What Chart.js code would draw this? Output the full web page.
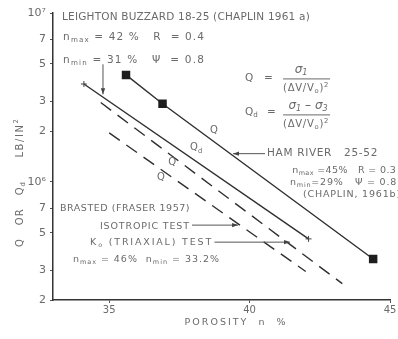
<!DOCTYPE html>
<html><head><meta charset="utf-8">
<script src="https://cdn.jsdelivr.net/npm/chart.js@4"></script>
<style>html,body{margin:0;padding:0;background:#fff}canvas{display:block}</style>
</head><body>
<canvas id="c" width="398" height="339"></canvas>
<script>
// ---- data ----
const porosityHam = [35.6, 36.9, 44.4];
const qHam = [4.3e6, 2.9e6, 3.5e5];
const porosityLeighton = [34.1, 42.1];
const qLeighton = [3.8e6, 4.6e5];
const porosityK0 = [34.7, 43.3];
const qK0 = [2.95e6, 2.5e5];
const porosityIso = [35.0, 42.0];
const qIso = [1.95e6, 2.95e5];
const xTickValues = [35, 40, 45];
const yTickValues = [2e5, 3e5, 5e5, 7e5, 1e6, 2e6, 3e6, 5e6, 7e6, 1e7];
const yTickLabels = ['2', '3', '5', '7', '10⁶', '2', '3', '5', '7', '10⁷'];

const LINE = '#2f2f2f';
const TEXT = '#6a6a6a';
const FONT = '"DejaVu Sans", sans-serif';

const pts = (xs, ys) => xs.map((v, i) => ({x: v, y: ys[i]}));

// annotation texts (data-coordinate anchors)
const texts = [
  {x: 33.32, y: 9.47e6, parts: ['LEIGHTON BUZZARD 18-25 (CHAPLIN 1961 a)'], size: 10.5, width: 248},
  {x: 33.36, y: 7.19e6, parts: ['n', ['max', 'sub'], ' = 42 %   R  = 0.4'], size: 10.5, width: 142},
  {x: 33.36, y: 5.25e6, parts: ['n', ['min', 'sub'], ' = 31 %   Ψ  = 0.8'], size: 10.5, width: 142},
  {x: 40.62, y: 1.47e6, parts: ['HAM RIVER   25-52'], size: 10.5, width: 111},
  {x: 41.52, y: 1.163e6, parts: ['n', ['max', 'sub'], ' =45%   R = 0.3'], size: 9.5, width: 104},
  {x: 41.44, y: 9.86e5, parts: ['n', ['min', 'sub'], '=29%   Ψ = 0.8'], size: 9.5, width: 107},
  {x: 41.90, y: 8.37e5, parts: ['(CHAPLIN, 1961b)'], size: 9.5, width: 98},
  {x: 33.25, y: 7.0e5, parts: ['BRASTED (FRASER 1957)'], size: 9.5, width: 130},
  {x: 34.67, y: 5.45e5, parts: ['ISOTROPIC TEST'], size: 9.5, width: 90},
  {x: 34.32, y: 4.40e5, parts: ['K', ['o', 'sub'], ' (TRIAXIAL) TEST'], size: 9.5, width: 123},
  {x: 33.71, y: 3.48e5, parts: ['n', ['max', 'sub'], ' = 46%  n', ['min', 'sub'], ' = 33.2%'], size: 9.5, width: 147},
  {x: 38.59, y: 2.01e6, parts: ['Q'], size: 10},
  {x: 37.88, y: 1.59e6, parts: ['Q', ['d', 'sub']], size: 10},
  {x: 37.10, y: 1.30e6, parts: ['Q'], size: 10},
  {x: 36.70, y: 1.06e6, parts: ['Q'], size: 10}
];
const arrows = [
  {from: [34.78, 4.97e6], to: [34.78, 3.3e6]},
  {from: [40.55, 1.47e6], to: [39.41, 1.47e6]},
  {from: [37.95, 5.55e5], to: [39.59, 5.55e5]},
  {from: [38.75, 4.40e5], to: [41.44, 4.40e5]}
];

function drawRich(ctx, parts, x, y, size, opts = {}) {
  const segs = parts.map(p => {
    const [t, m] = Array.isArray(p) ? p : [p, ''];
    return {t, m, s: m ? size * 0.68 : size, n: [...t].length};
  });
  let natural = 0, nChars = 0;
  ctx.letterSpacing = '0px';
  segs.forEach(g => {
    ctx.font = `${opts.style || 'normal'} ${g.s}px ${FONT}`;
    g.w = ctx.measureText(g.t).width;
    natural += g.w; nChars += g.n;
  });
  let ls = 0;
  if (opts.width) ls = (opts.width - natural) / Math.max(1, nChars);
  const total = natural + ls * nChars;
  let cx = opts.align === 'center' ? x - total / 2 : (opts.align === 'right' ? x - total : x);
  ctx.textBaseline = 'middle';
  ctx.textAlign = 'left';
  segs.forEach(g => {
    ctx.font = `${opts.style || 'normal'} ${g.s}px ${FONT}`;
    ctx.letterSpacing = ls + 'px';
    const dy = g.m === 'sub' ? size * 0.3 : (g.m === 'sup' ? -size * 0.35 : 0);
    ctx.fillText(g.t, cx, y + dy);
    cx += g.w + ls * g.n;
  });
  ctx.letterSpacing = '0px';
}

function drawArrow(ctx, x1, y1, x2, y2) {
  ctx.beginPath(); ctx.moveTo(x1, y1); ctx.lineTo(x2, y2); ctx.stroke();
  const a = Math.atan2(y2 - y1, x2 - x1), L = 6, W = 2.2;
  ctx.beginPath();
  ctx.moveTo(x2, y2);
  ctx.lineTo(x2 - L * Math.cos(a) + W * Math.sin(a), y2 - L * Math.sin(a) - W * Math.cos(a));
  ctx.lineTo(x2 - L * Math.cos(a) - W * Math.sin(a), y2 - L * Math.sin(a) + W * Math.cos(a));
  ctx.closePath(); ctx.fill();
}

const annotPlugin = {
  id: 'annot',
  afterDraw(chart) {
    const {ctx, scales: {x, y}, chartArea} = chart;
    const px = v => x.getPixelForValue(v), py = v => y.getPixelForValue(v);
    ctx.save();
    ctx.fillStyle = TEXT;
    texts.forEach(t => drawRich(ctx, t.parts, px(t.x), py(t.y), t.size, {width: t.width}));
    // arrows
    ctx.strokeStyle = '#555'; ctx.fillStyle = '#444'; ctx.lineWidth = 1;
    arrows.forEach(a => drawArrow(ctx, px(a.from[0]), py(a.from[1]), px(a.to[0]), py(a.to[1])));
    // formulas
    ctx.fillStyle = TEXT; ctx.strokeStyle = TEXT; ctx.lineWidth = 1;
    let ax = px(39.84), ay = py(4.10e6);
    drawRich(ctx, ['Q'], ax, ay, 10.5);
    drawRich(ctx, ['='], ax + 19, ay, 10.5);
    drawRich(ctx, ['σ', ['1', 'sub']], ax + 56, ay - 9, 12, {align: 'center', style: 'italic'});
    ctx.beginPath(); ctx.moveTo(ax + 38, ay + 0.5); ctx.lineTo(ax + 85, ay + 0.5); ctx.stroke();
    drawRich(ctx, ['(ΔV/V', ['o', 'sub'], ')', ['2', 'sup']], ax + 61, ay + 10, 10, {align: 'center', width: 46});
    ax = px(39.84); ay = py(2.58e6);
    drawRich(ctx, ['Q', ['d', 'sub']], ax, ay, 10.5);
    drawRich(ctx, ['='], ax + 22, ay, 10.5);
    drawRich(ctx, ['σ', ['1', 'sub'], ' – σ', ['3', 'sub']], ax + 63, ay - 7, 12, {align: 'center', style: 'italic'});
    ctx.beginPath(); ctx.moveTo(ax + 38, ay + 2.5); ctx.lineTo(ax + 85, ay + 2.5); ctx.stroke();
    drawRich(ctx, ['(ΔV/V', ['o', 'sub'], ')', ['2', 'sup']], ax + 61, ay + 12, 10, {align: 'center', width: 46});
    // y axis title (rotated)
    ctx.save();
    ctx.translate(chartArea.left - 33, py(6.46e5));
    ctx.rotate(-Math.PI / 2);
    drawRich(ctx, ['Q   OR   Q', ['d', 'sub']], 0, 0, 10, {align: 'center', width: 66});
    ctx.restore();
    ctx.save();
    ctx.translate(chartArea.left - 33, py(1.83e6));
    ctx.rotate(-Math.PI / 2);
    drawRich(ctx, ['LB/IN', ['2', 'sup']], 0, 0, 10, {align: 'center', width: 40});
    ctx.restore();
    // x axis title
    drawRich(ctx, ['POROSITY  n  %'], px(39.52), chartArea.bottom + 23, 9.5, {align: 'center', width: 103});
    ctx.restore();
  }
};

new Chart(document.getElementById('c'), {
  type: 'scatter',
  data: {
    datasets: [
      {data: pts(porosityHam, qHam), showLine: true, borderColor: LINE, borderWidth: 1.4,
       pointStyle: 'rect', pointRadius: 5, backgroundColor: '#1e1e1e', pointBorderColor: '#1e1e1e'},
      {data: pts(porosityLeighton, qLeighton), showLine: true, borderColor: LINE, borderWidth: 1.4,
       pointStyle: 'cross', pointRadius: 3, pointBorderWidth: 1, pointBorderColor: '#444'},
      {data: pts(porosityK0, qK0), showLine: true, borderColor: LINE, borderWidth: 1.4,
       borderDash: [13, 8], pointRadius: 0},
      {data: pts(porosityIso, qIso), showLine: true, borderColor: LINE, borderWidth: 1.4,
       borderDash: [13, 8], pointRadius: 0}
    ]
  },
  options: {
    responsive: false,
    animation: false,
    devicePixelRatio: 1,
    layout: {padding: {top: 13, right: 8, left: 0, bottom: 0}},
    plugins: {legend: {display: false}, tooltip: {enabled: false}},
    scales: {
      x: {
        type: 'linear', min: 33, max: 45,
        afterBuildTicks: s => { s.ticks = xTickValues.map(v => ({value: v})); },
        afterFit: s => { s.height = 39; },
        ticks: {autoSkip: false, maxRotation: 0, padding: 1, color: TEXT,
                font: {family: FONT, size: 10}, callback: v => String(v)},
        grid: {drawOnChartArea: false, drawTicks: true, tickLength: 3, color: '#555'},
        border: {display: true, color: '#333', width: 1.5}
      },
      y: {
        type: 'logarithmic', min: 2e5, max: 1e7,
        afterBuildTicks: s => { s.ticks = yTickValues.map(v => ({value: v})); },
        afterFit: s => { s.width = 53; },
        ticks: {autoSkip: false, padding: 4, color: TEXT, font: {family: FONT, size: 11},
                callback: (v) => { const i = yTickValues.indexOf(v); return i >= 0 ? yTickLabels[i] : ''; }},
        grid: {drawOnChartArea: false, drawTicks: true, tickLength: 3, color: '#555'},
        border: {display: true, color: '#333', width: 1.5}
      }
    }
  },
  plugins: [annotPlugin]
});
</script>
</body></html>
